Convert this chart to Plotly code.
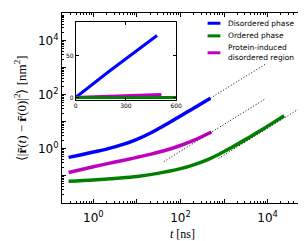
import plotly.graph_objects as go

# ---------------- data ----------------
t_dis = [0.27, 0.5, 1, 2, 5, 10, 20, 50, 100, 200, 486]
v_dis = [0.47, 0.58, 0.74, 0.95, 1.45, 2.2, 3.7, 8.4, 16, 31.5, 74]

t_ord = [0.27, 1, 3, 10, 30, 100, 200, 437, 750, 1500, 3000, 6000, 10000, 24000]
v_ord = [0.061, 0.068, 0.078, 0.092, 0.12, 0.18, 0.25, 0.40, 0.60, 1.1, 2.1, 4.1, 6.8, 16.5]

t_pro = [0.27, 1, 2, 5, 10, 20, 50, 100, 200, 512]
v_pro = [0.13, 0.21, 0.27, 0.37, 0.47, 0.61, 0.90, 1.3, 2.0, 4.1]

# slope-1 guide lines (start/end time and value)
guide_t = [[486, 8900], [41.5, 8600], [750, 100000]]
guide_v = [[74, 1355], [0.33, 68], [0.43, 57]]

series_names = ["Disordered phase", "Ordered phase", "Protein-induced<br>disordered region"]
colors = ["#0000ff", "#008000", "#bf00bf"]

x_tick_exp = list(range(-1, 6))
x_label_exp = [0, 2, 4]
y_tick_exp = list(range(-2, 6))
y_label_exp = [0, 2, 4]

inset_xticks = [0, 300, 600]
inset_yticks = [0, 50]

# ---------------- geometry helpers ----------------
W, H = 306, 241
L, R, T, B = 54, 300, 4, 195


def px(x):
    return (x - L) / (R - L)


def py(y):
    return (B - y) / (B - T)


def log_ticks(exps, labelled):
    vals = [10.0 ** e for e in exps]
    text = [f"10<sup>{e}</sup>" if e in labelled else "" for e in exps]
    minor = [m * 10.0 ** e for e in exps for m in range(2, 10)]
    return vals, text, minor


fig = go.Figure()

data = [(t_dis, v_dis), (t_ord, v_ord), (t_pro, v_pro)]
for (tt, vv), c in zip(data, colors):
    fig.add_trace(go.Scatter(x=tt, y=vv, mode="lines", line=dict(color=c, width=3.5, shape="spline"),
                             xaxis="x", yaxis="y", hoverinfo="skip"))

for gt, gv in zip(guide_t, guide_v):
    fig.add_trace(go.Scatter(x=gt, y=gv, mode="lines", line=dict(color="black", width=1, dash="1px,2px"),
                             xaxis="x", yaxis="y", hoverinfo="skip"))

# inset (linear)
for (tt, vv), c in zip([data[0], data[2], data[1]], [colors[0], colors[2], colors[1]]):
    fig.add_trace(go.Scatter(x=[0] + tt, y=[vv[0]] + vv, mode="lines", line=dict(color=c, width=3),
                             xaxis="x2", yaxis="y2", hoverinfo="skip"))

xv, xt, xm = log_ticks(x_tick_exp, x_label_exp)
yv, yt, ym = log_ticks(y_tick_exp, y_label_exp)

axis_common = dict(showline=True, linecolor="black", linewidth=1, mirror="allticks", ticks="inside",
                   showgrid=False, zeroline=False, tickcolor="black")

fig.update_layout(
    width=W, height=H,
    margin=dict(l=L, r=W - R, t=T, b=H - B),
    paper_bgcolor="white", plot_bgcolor="white",
    showlegend=False,
    font=dict(family="DejaVu Sans", color="black"),
    xaxis=dict(type="log", range=[-0.72, 4.835], tickmode="array", tickvals=xv, ticktext=xt,
               ticklen=4, tickwidth=1, tickfont=dict(size=12), ticklabelstandoff=4,
               minor=dict(tickmode="array", tickvals=xm, ticks="inside", ticklen=2, tickcolor="black"),
               **axis_common),
    yaxis=dict(type="log", range=[-2.02, 5.03], tickmode="array", tickvals=yv, ticktext=yt,
               ticklen=4, tickwidth=1, tickfont=dict(size=12),
               minor=dict(tickmode="array", tickvals=ym, ticks="inside", ticklen=2, tickcolor="black"),
               **axis_common),
    xaxis2=dict(domain=[px(68), px(170)], anchor="y2", range=[0, 600], tickmode="array",
                tickvals=inset_xticks, ticklen=3, tickfont=dict(size=6), **axis_common),
    yaxis2=dict(domain=[py(91), py(13)], anchor="x2", range=[-2, 90], tickmode="array",
                tickvals=inset_yticks, ticklen=3, tickfont=dict(size=6), **axis_common),
)

annotations = [
    dict(text="<i>t</i> [ns]", x=px(176), y=py(226), xref="paper", yref="paper",
         showarrow=False, font=dict(family="Liberation Serif", size=12), xanchor="center", yanchor="middle"),
    dict(text="⟨|<b>r̄</b>(<i>t</i>) − <b>r̄</b>(0)|<sup>2</sup>⟩ [nm<sup>2</sup>]", x=px(12), y=py(100),
         xref="paper", yref="paper", textangle=-90, showarrow=False,
         font=dict(family="Liberation Serif", size=13), xanchor="center", yanchor="middle"),
]

legend_rows = [14.3, 27, 44]
shapes = []
for name, c, yy in zip(series_names, colors, legend_rows):
    shapes.append(dict(type="line", xref="paper", yref="paper", x0=px(202), x1=px(215), y0=py(yy), y1=py(yy),
                       line=dict(color=c, width=3)))
    annotations.append(dict(text=name, x=px(221), y=py(yy), xref="paper", yref="paper", showarrow=False,
                            xanchor="left", yanchor="middle", align="left",
                            font=dict(size=7.5, family="DejaVu Sans")))

fig.update_layout(annotations=annotations, shapes=shapes)

fig.write_html("out.html")
